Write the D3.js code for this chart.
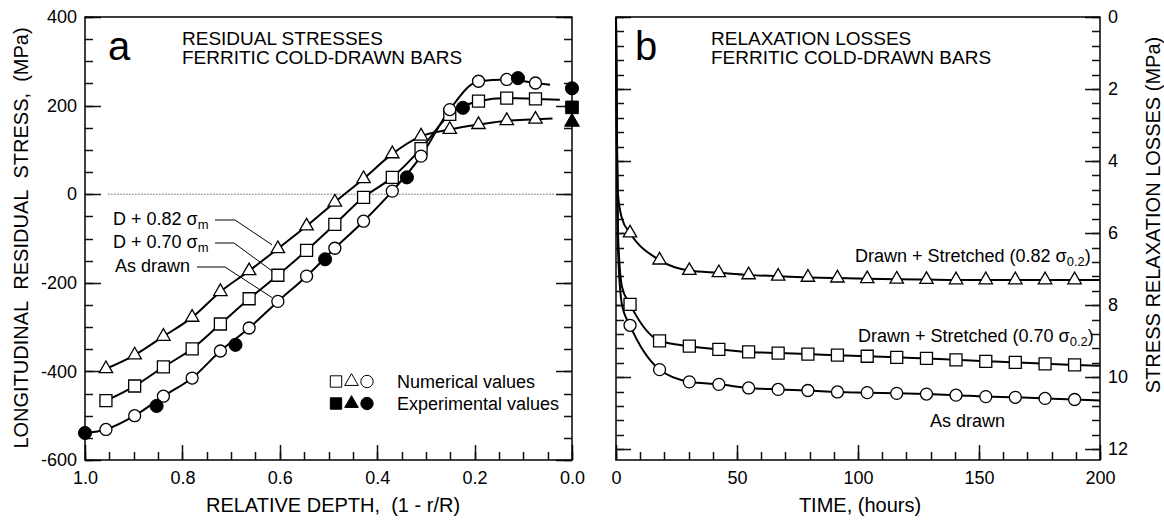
<!DOCTYPE html>
<html>
<head>
<meta charset="utf-8">
<script src="https://cdn.jsdelivr.net/npm/d3@7"></script>
<style>
body { margin: 0; background: #fff; }
svg text { font-family: "Liberation Sans", Arial, Helvetica, sans-serif; fill: #000; }
</style>
</head>
<body>
<svg id="chart" width="1164" height="520"></svg>
<script>
'use strict'

// panel a: residual stresses, relative depth (1 - r/R)
var depthNum = [0.957, 0.898, 0.839, 0.780, 0.722, 0.663, 0.604, 0.545, 0.487, 0.428, 0.369, 0.310, 0.251, 0.192, 0.134, 0.075]
var stressTri = [-394, -363, -321, -278, -220, -173, -123, -72, -18, 35, 91, 131, 146, 157, 166, 169]
var stressSq = [-466, -433, -390, -349, -293, -236, -183, -127, -68, -7, 38, 103, 180, 210, 217, 215]
var stressCirc = [-531, -500, -456, -415, -354, -302, -242, -185, -122, -61, 7, 86, 191, 255, 259, 251]
// where the fitted lines stop on the right
var endDepth = [0.04, 0.025, 0.045]
var endStress = [171, 213, 247]
// experimental points (filled)
var expCircDepth = [1.0, 0.853, 0.691, 0.507, 0.339, 0.224, 0.111, 0.0]
var expCircStress = [-539, -478, -340, -147, 38, 195, 262, 239]
var expSqDepth = [0.0]
var expSqStress = [196]
var expTriDepth = [0.0]
var expTriStress = [163]

// panel b: relaxation losses vs time (hours)
var timeNum = [5.8, 18, 30.3, 42.5, 54.8, 67, 79.3, 91.5, 103.8, 116, 128.3, 140.5, 152.8, 165, 177.3, 189.5]
var lossTri = [6.0, 6.75, 7.04, 7.1, 7.16, 7.2, 7.23, 7.25, 7.27, 7.28, 7.29, 7.3, 7.3, 7.3, 7.3, 7.3]
var lossSq = [7.98, 8.99, 9.14, 9.23, 9.30, 9.33, 9.36, 9.39, 9.42, 9.45, 9.48, 9.52, 9.56, 9.59, 9.63, 9.66]
var lossCirc = [8.56, 9.79, 10.13, 10.2, 10.3, 10.34, 10.37, 10.41, 10.43, 10.45, 10.47, 10.5, 10.54, 10.56, 10.59, 10.62]
// steep start of the curves, before the first marker
var earlyTime = [0, 0.3, 0.8, 2.5]
var earlyTri = [0, 2.6, 4.9, 5.6]
var earlySq = [0, 3.0, 6.0, 7.5]
var earlyCirc = [0, 3.2, 6.4, 8.0]
var endTime = 200
var endLoss = [7.3, 9.68, 10.65]

// tick values
var depthMajor = [1.0, 0.8, 0.6, 0.4, 0.2, 0.0]
var depthMinor = d3.range(0, 21).map(i => i * 0.05)
var stressMajor = [-600, -400, -200, 0, 200, 400]
var stressMinor = d3.range(-600, 401, 50)
var timeMajor = [0, 50, 100, 150, 200]
var timeMinor = d3.range(0, 201, 10)
var lossMajor = [0, 2, 4, 6, 8, 10, 12]
var lossMinor = d3.range(0, 31).map(i => i * 0.4)

var font = '"Liberation Sans", Arial, Helvetica, sans-serif'
var svg = d3.select('#chart')

// scales
var xA = d3.scaleLinear().domain([1, 0]).range([85, 572])
var yA = d3.scaleLinear().domain([-600, 400]).range([460, 17])
var xB = d3.scaleLinear().domain([0, 200]).range([616, 1100])
var yB = d3.scaleLinear().domain([0, 12.3]).range([17, 460])

// tick labels only, from d3 axes
function axisLabels(maker, scale, tx, ty, vals, fmt, pad) {
    var ax = maker(scale).tickValues(vals).tickSize(0).tickPadding(pad).tickFormat(fmt)
    var g = svg.append('g')
        .attr('transform', `translate(${tx},${ty})`)
        .call(ax)
    g.attr('font-family', font).attr('font-size', 18)
    g.select('.domain').remove()
    g.selectAll('.tick line').remove()
    g.selectAll('.tick text').attr('fill', '#000')
    return g
}

// inward tick marks as one path per set: side is 'bottom', 'left' or 'right'
function tickMarks(scale, vals, side, pos, size) {
    var d = vals.map(v => {
        var p = Math.round(scale(v)) + 0.5
        if (side === 'bottom') return `M${p},${pos}V${pos - size}`
        var dir = side === 'left' ? 1 : -1
        return `M${pos},${p}H${pos + dir * size}`
    }).join('')
    svg.append('path').attr('d', d)
        .attr('fill', 'none').attr('stroke', '#111').attr('stroke-width', 1.5)
}

var fmtDepth = d3.format('.1f')
var fmtPlain = d => String(d)

// panel a ticks
tickMarks(xA, depthMinor, 'bottom', 460, 8)
tickMarks(xA, depthMajor, 'bottom', 460, 15)
tickMarks(yA, stressMinor, 'left', 85, 8)
tickMarks(yA, stressMajor, 'left', 85, 16)
tickMarks(yA, stressMinor, 'right', 572, 8)
tickMarks(yA, stressMajor, 'right', 572, 16)
axisLabels(d3.axisBottom, xA, 0, 460, depthMajor, fmtDepth, 11)
axisLabels(d3.axisLeft, yA, 85, 0, stressMajor, fmtPlain, 8)

// panel b ticks
tickMarks(xB, timeMinor, 'bottom', 460, 8)
tickMarks(xB, timeMajor, 'bottom', 460, 15)
tickMarks(yB, lossMinor, 'left', 616, 8)
tickMarks(yB, lossMajor, 'left', 616, 15)
tickMarks(yB, lossMinor, 'right', 1100, 8)
tickMarks(yB, lossMajor, 'right', 1100, 15)
axisLabels(d3.axisBottom, xB, 0, 460, timeMajor, fmtPlain, 11)
axisLabels(d3.axisRight, yB, 1100, 0, lossMajor, fmtPlain, 8)

// frames
svg.append('rect').attr('x', xA(1)).attr('y', yA(400))
    .attr('width', xA(0) - xA(1)).attr('height', yA(-600) - yA(400))
    .attr('fill', 'none').attr('stroke', '#000').attr('stroke-width', 1.5)
svg.append('rect').attr('x', xB(0)).attr('y', yB(0))
    .attr('width', xB(200) - xB(0)).attr('height', yB(12.3) - yB(0))
    .attr('fill', 'none').attr('stroke', '#000').attr('stroke-width', 1.5)

// zero line
svg.append('line')
    .attr('x1', xA(0.953)).attr('x2', xA(0.035))
    .attr('y1', yA(0)).attr('y2', yA(0))
    .attr('stroke', '#666').attr('stroke-width', 0.8).attr('stroke-dasharray', '2,1')

// curves
var lineA = d3.line().x(d => xA(d[0])).y(d => yA(d[1])).curve(d3.curveMonotoneX)
var lineB = d3.line().x(d => xB(d[0])).y(d => yB(d[1])).curve(d3.curveMonotoneX)

function zip(xs, ys) { return xs.map((x, i) => [x, ys[i]]) }

var ptsTri = zip(depthNum, stressTri).concat([[endDepth[0], endStress[0]]])
var ptsSq = zip(depthNum, stressSq).concat([[endDepth[1], endStress[1]]])
var ptsCirc = [[expCircDepth[0], expCircStress[0]]].concat(zip(depthNum, stressCirc), [[endDepth[2], endStress[2]]])
;[ptsTri, ptsSq, ptsCirc].forEach(p => {
    svg.append('path').datum(p).attr('d', lineA)
        .attr('fill', 'none').attr('stroke', '#000').attr('stroke-width', 2)
})

var bTri = zip(earlyTime, earlyTri).concat(zip(timeNum, lossTri), [[endTime, endLoss[0]]])
var bSq = zip(earlyTime, earlySq).concat(zip(timeNum, lossSq), [[endTime, endLoss[1]]])
var bCirc = zip(earlyTime, earlyCirc).concat(zip(timeNum, lossCirc), [[endTime, endLoss[2]]])
;[bTri, bSq, bCirc].forEach(p => {
    svg.append('path').datum(p).attr('d', lineB)
        .attr('fill', 'none').attr('stroke', '#000').attr('stroke-width', 2)
})

// markers
var symTri = d3.symbol(d3.symbolTriangle, 78)
var symSq = d3.symbol(d3.symbolSquare, 144)
var symCirc = d3.symbol(d3.symbolCircle, 113)

function markers(pts, sx, sy, sym, fill, sw) {
    svg.append('g').selectAll('path').data(pts).join('path')
        .attr('d', sym)
        .attr('transform', d => `translate(${sx(d[0])},${sy(d[1])})`)
        .attr('fill', fill).attr('stroke', '#000').attr('stroke-width', sw)
}

markers(zip(depthNum, stressTri), xA, yA, symTri, '#fff', 1.3)
markers(zip(depthNum, stressSq), xA, yA, symSq, '#fff', 1.3)
markers(zip(depthNum, stressCirc), xA, yA, symCirc, '#fff', 1.3)
markers(zip(expCircDepth, expCircStress), xA, yA, d3.symbol(d3.symbolCircle, 135), '#000', 1)
markers(zip(expSqDepth, expSqStress), xA, yA, d3.symbol(d3.symbolSquare, 160), '#000', 1)
markers(zip(expTriDepth, expTriStress), xA, yA, d3.symbol(d3.symbolTriangle, 95), '#000', 1)

markers(zip(timeNum, lossTri), xB, yB, symTri, '#fff', 1.3)
markers(zip(timeNum, lossSq), xB, yB, symSq, '#fff', 1.3)
markers(zip(timeNum, lossCirc), xB, yB, symCirc, '#fff', 1.3)

// text helper
function label(x, y, size, txt, anchor) {
    return svg.append('text').attr('x', x).attr('y', y)
        .attr('font-size', size).attr('text-anchor', anchor || 'start').text(txt)
}
function labelSub(x, y, main, sym, sub) {
    var t = svg.append('text').attr('x', x).attr('y', y).attr('font-size', 18)
    t.append('tspan').text(main)
    t.append('tspan').text(sym)
    t.append('tspan').attr('font-size', 13).attr('dy', 4).text(sub)
    return t
}

// panel letters and titles
label(108, 60, 40, 'a')
label(182, 45, 19, 'RESIDUAL STRESSES')
label(182, 64, 19, 'FERRITIC COLD-DRAWN BARS')
label(635, 60, 40, 'b')
label(711, 45, 19, 'RELAXATION LOSSES')
label(711, 64, 19, 'FERRITIC COLD-DRAWN BARS')

// axis titles
label(333, 512, 20, 'RELATIVE DEPTH,\u00a0\u00a0(1 - r/R)', 'middle')
label(860, 512, 20, 'TIME, (hours)', 'middle')
svg.append('text').attr('transform', 'translate(28,238) rotate(-90)')
    .attr('font-size', 20).attr('text-anchor', 'middle')
    .text('LONGITUDINAL\u00a0\u00a0RESIDUAL\u00a0\u00a0STRESS,\u00a0\u00a0(MPa)')
svg.append('text').attr('transform', 'translate(1160,215) rotate(-90)')
    .attr('font-size', 20).attr('text-anchor', 'middle')
    .text('STRESS RELAXATION LOSSES (MPa)')

// panel a series labels with leader lines to the 7th marker
var leaderIdx = 6
var leaders = [
    { y: 225, txt: 'D + 0.82 ', sub: 'm', x0: 215, x1: 235, vals: stressTri },
    { y: 248, txt: 'D + 0.70 ', sub: 'm', x0: 215, x1: 234, vals: stressSq },
    { y: 272, txt: 'As drawn', sub: null, x0: 197, x1: 225, vals: stressCirc }
]
leaders.forEach(l => {
    if (l.sub) labelSub(113, l.y, l.txt, '\u03c3', l.sub)
    else label(115, l.y, 18, l.txt)
    var ly = l.y - 5
    var tx = xA(depthNum[leaderIdx]), ty = yA(l.vals[leaderIdx])
    var dx = tx - l.x1, dy = ty - ly, len = Math.sqrt(dx * dx + dy * dy)
    var ex = tx - dx / len * 7, ey = ty - dy / len * 7
    svg.append('path')
        .attr('d', `M${l.x0},${ly}L${l.x1},${ly}L${ex},${ey}`)
        .attr('fill', 'none').attr('stroke', '#000').attr('stroke-width', 1)
})

// legend
var legRows = [
    { y: 388, fill: '#fff', txt: 'Numerical values' },
    { y: 410, fill: '#000', txt: 'Experimental values' }
]
legRows.forEach(r => {
    var cy = r.y - 6.5
    var syms = [d3.symbol(d3.symbolSquare, 130), d3.symbol(d3.symbolTriangle, 80), d3.symbol(d3.symbolCircle, 120)]
    var cx = [336, 351.5, 367]
    syms.forEach((s, i) => {
        svg.append('path').attr('d', s).attr('transform', `translate(${cx[i]},${cy})`)
            .attr('fill', r.fill).attr('stroke', '#000').attr('stroke-width', 1)
    })
    label(397, r.y, 18, r.txt)
})

// panel b series labels
labelSub(855, 262, 'Drawn + Stretched (0.82 ', '\u03c3', '0.2').append('tspan').attr('dy', -4).text(')')
labelSub(858, 342, 'Drawn + Stretched (0.70 ', '\u03c3', '0.2').append('tspan').attr('dy', -4).text(')')
label(930, 427, 18, 'As drawn')
</script>
</body>
</html>
